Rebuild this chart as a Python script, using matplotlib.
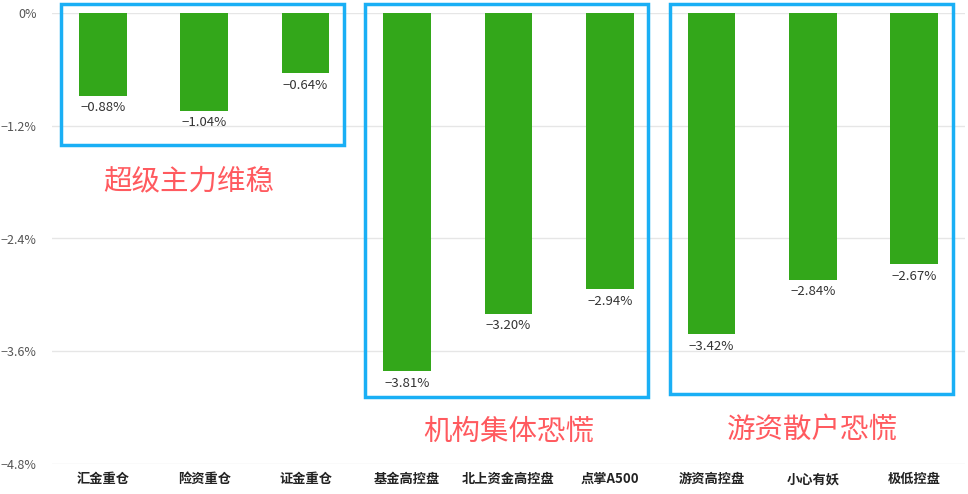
import matplotlib
matplotlib.use("Agg")
import matplotlib.pyplot as plt
from matplotlib.patches import Rectangle

plt.rcParams['font.family'] = ['Noto Sans CJK SC', 'DejaVu Sans']
plt.rcParams['axes.unicode_minus'] = True

categories = ['汇金重仓', '险资重仓', '证金重仓', '基金高控盘', '北上资金高控盘',
              '点掌A500', '游资高控盘', '小心有妖', '极低控盘']
values = [-0.88, -1.04, -0.64, -3.81, -3.20, -2.94, -3.42, -2.84, -2.67]
yticks = [0, -1.2, -2.4, -3.6, -4.8]
ytick_labels = ['0%', '−1.2%', '−2.4%', '−3.6%', '−4.8%']

# groups: first index, last index, box bottom, caption y, caption
groups = [
    (0, 2, -1.41, -1.79, '超级主力维稳'),
    (3, 5, -4.09, -4.46, '机构集体恐慌'),
    (6, 8, -4.05, -4.44, '游资散户恐慌'),
]

fig = plt.figure(figsize=(9.68, 4.94), dpi=100)
ax = fig.add_axes([52 / 968, 1 - 464 / 494, 913 / 968, 451 / 494])

x = list(range(len(categories)))
ax.bar(x, values, width=0.47, color='#33a71a', zorder=3)
for xi, v in zip(x, values):
    ax.text(xi, v - 0.06, f'{v:.2f}%'.replace('-', '−'), ha='center', va='top',
            fontsize=9.5, color='#333333', zorder=4)

ax.set_xlim(-0.5, len(categories) - 0.5)
ax.set_ylim(-4.8, 0)
ax.set_yticks(yticks)
ax.set_yticklabels(ytick_labels, fontsize=9, color='#555555')
ax.set_xticks(x)
ax.set_xticklabels(categories, fontsize=9.5, fontweight='bold', color='#222222')
ax.tick_params(axis='both', length=0)
ax.tick_params(axis='x', pad=6)
ax.tick_params(axis='y', pad=11)
ax.grid(axis='y', color='#e6e6e6', linewidth=1, zorder=0)
for s in ax.spines.values():
    s.set_visible(False)

for first, last, bottom, cy, caption in groups:
    left = first - 0.41
    right = last + 0.38
    top = 0.096
    ax.add_patch(Rectangle((left, bottom), right - left, top - bottom, fill=False,
                           edgecolor='#1aaff5', linewidth=2.5, clip_on=False, zorder=5))
    cx = (first + last) / 2
    ax.text(cx - (0.15 if first == 0 else 0), cy, caption, ha='center', va='center',
            fontsize=20.5, color='#ff5a5f', zorder=5)

fig.savefig('out.png', dpi=100)
